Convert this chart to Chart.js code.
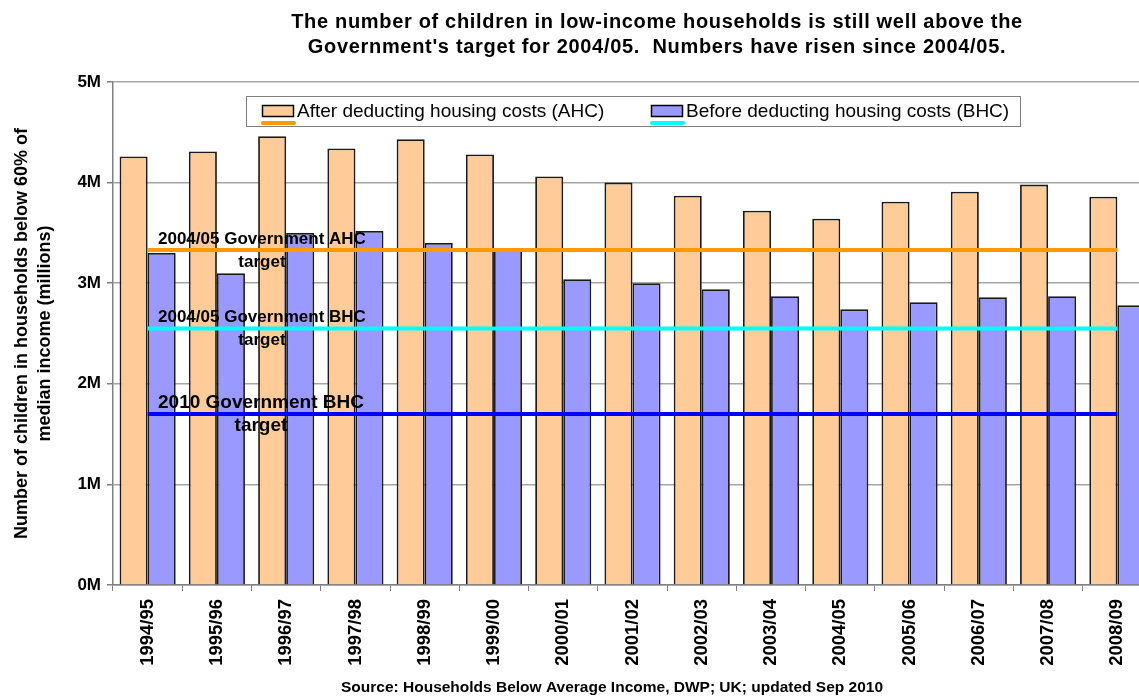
<!DOCTYPE html>
<html>
<head>
<meta charset="utf-8">
<script src="https://cdn.jsdelivr.net/npm/chart.js@4.4.0/dist/chart.umd.min.js"></script>
<style>
  html, body { margin: 0; padding: 0; background: #fff; overflow: hidden; }
  #wrap { width: 1160px; height: 698px; }
</style>
</head>
<body>
<div id="wrap"><canvas id="povertyChart" width="1160" height="698"></canvas></div>
<script>
// Children below 60% of median income, millions
const years = ['1994/95', '1995/96', '1996/97', '1997/98', '1998/99', '1999/00', '2000/01', '2001/02',
  '2002/03', '2003/04', '2004/05', '2005/06', '2006/07', '2007/08', '2008/09'];
const ahc = [4.26, 4.31, 4.46, 4.34, 4.43, 4.28, 4.06, 4.00, 3.87, 3.72, 3.64, 3.81, 3.91, 3.98, 3.86];
const bhc = [3.30, 3.10, 3.50, 3.52, 3.40, 3.35, 3.04, 3.00, 2.94, 2.87, 2.74, 2.81, 2.86, 2.87, 2.78];
const yTickLabels = ['0M', '1M', '2M', '3M', '4M', '5M'];

// Government targets
const targetAhc2005 = 3.33;
const targetBhc2005 = 2.55;
const targetBhc2010 = 1.70;

const FONT = '"Liberation Sans", Arial, sans-serif';
const titleLines = [
  'The number of children in low-income households is still well above the',
  "Government's target for 2004/05.  Numbers have risen since 2004/05."
];
const sourceText = 'Source: Households Below Average Income, DWP; UK; updated Sep 2010';

const targetLabels = [
  { text: '2004/05 Government AHC', value: targetAhc2005, size: 17 },
  { text: '2004/05 Government BHC', value: targetBhc2005, size: 17 },
  { text: '2010 Government BHC', value: targetBhc2010, size: 19 },
];

function targetLine(label, value, color) {
  return {
    type: 'line',
    label: label,
    data: [{ x: years[0], y: value }, { x: years[years.length - 1], y: value }],
    borderColor: color,
    backgroundColor: color,
    borderWidth: 4,
    pointRadius: 0,
    fill: false,
    order: 0,
  };
}

// Labels for the target lines, drawn over the bars
const targetText = {
  id: 'targetText',
  afterDatasetsDraw(chart) {
    const { ctx, chartArea, scales: { y } } = chart;
    ctx.save();
    ctx.fillStyle = '#000';
    ctx.textBaseline = 'middle';
    targetLabels.forEach(function (t) {
      const py = y.getPixelForValue(t.value);
      ctx.font = 'bold ' + t.size + 'px ' + FONT;
      const w = ctx.measureText(t.text).width;
      const x0 = chartArea.left + 45;
      ctx.textAlign = 'left';
      ctx.fillText(t.text, x0, py - 11);
      ctx.textAlign = 'center';
      ctx.fillText('target', x0 + w / 2, py + 12);
    });
    ctx.restore();
  },
};

// Title, boxed legend and source note
const decorations = {
  id: 'decorations',
  afterDraw(chart) {
    const ctx = chart.ctx;
    ctx.save();
    ctx.fillStyle = '#000';
    ctx.textAlign = 'center';
    ctx.textBaseline = 'middle';
    ctx.font = 'bold 20px ' + FONT;
    ctx.letterSpacing = '0.68px';
    ctx.fillText(titleLines[0], 657, 22);
    ctx.fillText(titleLines[1], 657, 47);
    ctx.letterSpacing = '0px';

    ctx.font = 'bold 15.5px ' + FONT;
    ctx.fillText(sourceText, 612, 688);

    // legend box
    ctx.fillStyle = '#fff';
    ctx.fillRect(246, 96, 774, 30);
    ctx.strokeStyle = '#808080';
    ctx.lineWidth = 1;
    ctx.strokeRect(246.5, 96.5, 774, 30);

    const entries = [
      { x: 262, text: 'After deducting housing costs (AHC)', fill: '#FFCC99', line: '#FF9900' },
      { x: 651, text: 'Before deducting housing costs (BHC)', fill: '#9999FF', line: '#00FFFF' },
    ];
    ctx.font = '19px ' + FONT;
    ctx.textAlign = 'left';
    entries.forEach(function (e) {
      ctx.fillStyle = e.fill;
      ctx.fillRect(e.x, 105, 31, 11);
      ctx.strokeStyle = '#000';
      ctx.lineWidth = 1.5;
      ctx.strokeRect(e.x + 0.5, 105.5, 31, 11);
      ctx.strokeStyle = e.line;
      ctx.lineWidth = 4;
      ctx.lineCap = 'round';
      ctx.beginPath();
      ctx.moveTo(e.x + 1, 123);
      ctx.lineTo(e.x + 32, 123);
      ctx.stroke();
      ctx.fillStyle = '#000';
      ctx.fillText(e.text, e.x + 35, 111.5);
    });
    ctx.restore();
  },
};

const ctx = document.getElementById('povertyChart').getContext('2d');
new Chart(ctx, {
  data: {
    labels: years,
    datasets: [
      {
        type: 'bar',
        label: 'After deducting housing costs (AHC)',
        data: ahc,
        backgroundColor: '#FFCC99',
        borderColor: '#1a1a1a',
        borderWidth: 1.8,
        categoryPercentage: 0.81,
        barPercentage: 1.0,
        order: 1,
      },
      {
        type: 'bar',
        label: 'Before deducting housing costs (BHC)',
        data: bhc,
        backgroundColor: '#9999FF',
        borderColor: '#1a1a1a',
        borderWidth: 1.8,
        categoryPercentage: 0.81,
        barPercentage: 1.0,
        order: 1,
      },
      targetLine('2004/05 Government AHC target', targetAhc2005, '#FF9900'),
      targetLine('2004/05 Government BHC target', targetBhc2005, '#00FFFF'),
      targetLine('2010 Government BHC target', targetBhc2010, '#0000FF'),
    ],
  },
  options: {
    responsive: false,
    animation: false,
    layout: { padding: { top: 82, right: 8, left: 0, bottom: 0 } },
    plugins: {
      legend: { display: false },
      title: { display: false },
      tooltip: { enabled: false },
    },
    scales: {
      x: {
        type: 'category',
        offset: true,
        afterFit: function (scale) { scale.height = 113; },
        grid: {
          offset: true,
          drawOnChartArea: false,
          drawTicks: true,
          tickLength: 6,
          color: '#808080',
        },
        border: { color: '#808080', width: 1.5 },
        ticks: {
          autoSkip: false,
          minRotation: 90,
          maxRotation: 90,
          padding: 8,
          color: '#000',
          font: { family: FONT, size: 18.5, weight: 'bold' },
        },
      },
      y: {
        min: 0,
        max: 5,
        afterFit: function (scale) { scale.width = 113; },
        grid: {
          color: '#a6a6a6',
          lineWidth: 1.5,
          tickLength: 6,
          tickColor: '#808080',
        },
        border: { color: '#808080', width: 1.5 },
        ticks: {
          stepSize: 1,
          padding: 6,
          color: '#000',
          font: { family: FONT, size: 17, weight: 'bold' },
          callback: function (value) { return yTickLabels[value]; },
        },
        title: {
          display: true,
          text: ['Number of children in households below 60% of', 'median income (millions)'],
          color: '#000',
          font: { family: FONT, size: 18, weight: 'bold', lineHeight: 1.28 },
          padding: { top: 10.5, bottom: 0 },
        },
      },
    },
  },
  plugins: [targetText, decorations],
});
</script>
</body>
</html>
